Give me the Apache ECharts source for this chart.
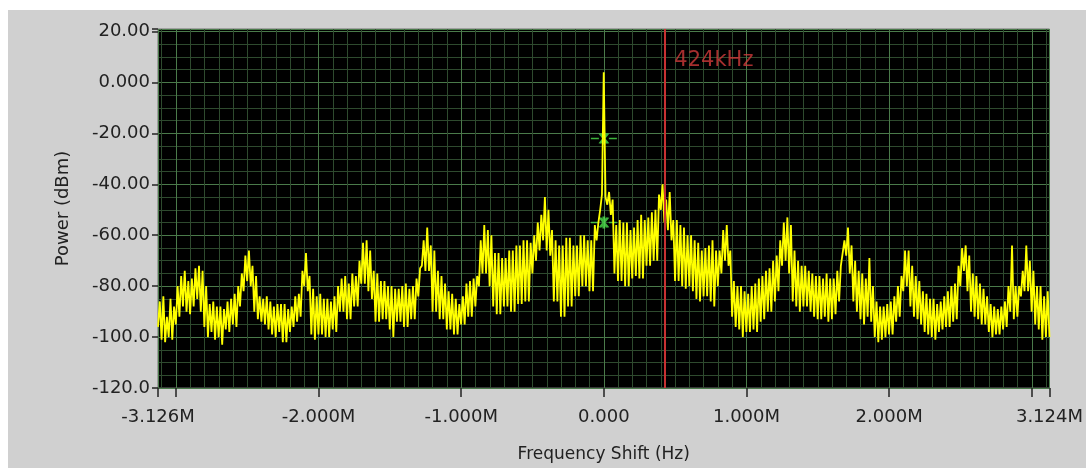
<!DOCTYPE html>
<html>
<head>
<meta charset="utf-8">
<script src="https://cdn.jsdelivr.net/npm/echarts@6/dist/echarts.min.js"></script>
<style>
  html, body { margin: 0; padding: 0; background: #fff; }
  #panel { position: absolute; left: 8px; top: 10px; width: 1078px; height: 458px; background: #d0d0d0; }
  #chart { position: absolute; left: 0; top: 0; width: 1086px; height: 468px; }
</style>
</head>
<body>
<div id="panel"></div>
<div id="chart"></div>
<script>
// spectrum: first bin and bin width in Hz, power per bin in dBm
const freqStart = -3126000;
const freqStep = 12500;
const powerDbm = [
  -96, -86, -101, -84, -102, -92, -100, -85, -101, -88,
  -95, -80, -92, -76, -88, -74, -90, -78, -91, -77,
  -88, -73, -85, -72, -90, -74, -96, -80, -100, -87,
  -98, -86, -101, -88, -100, -88, -103, -89, -97, -86,
  -98, -85, -95, -83, -96, -80, -88, -75, -82, -68,
  -78, -66, -80, -72, -90, -76, -93, -84, -94, -85,
  -95, -84, -97, -86, -99, -88, -100, -87, -98, -87,
  -102, -87, -102, -89, -98, -88, -96, -84, -94, -83,
  -92, -74, -80, -67, -82, -76, -99, -81, -101, -84,
  -99, -83, -99, -85, -100, -85, -100, -86, -97, -84,
  -98, -80, -90, -77, -90, -76, -93, -79, -93, -75,
  -88, -76, -88, -70, -79, -63, -79, -62, -82, -66,
  -85, -74, -94, -75, -94, -78, -93, -78, -93, -80,
  -97, -80, -100, -81, -94, -81, -94, -80, -96, -79,
  -96, -81, -93, -80, -93, -77, -84, -73, -72, -62,
  -74, -57, -74, -64, -90, -66, -90, -74, -93, -76,
  -93, -79, -97, -82, -97, -83, -99, -85, -99, -87,
  -95, -84, -95, -79, -92, -78, -92, -77, -88, -76,
  -80, -62, -75, -56, -75, -58, -80, -60, -88, -67,
  -91, -67, -91, -69, -88, -69, -88, -66, -90, -66,
  -90, -64, -87, -64, -87, -62, -86, -62, -86, -63,
  -75, -60, -70, -55, -66, -52, -62, -45, -66, -50,
  -68, -58, -86, -62, -86, -64, -92, -64, -92, -61,
  -88, -61, -88, -64, -84, -64, -84, -60, -80, -60,
  -80, -62, -82, -62, -82, -56, -62, -55, -50, -44,
  4, -45, -48, -43, -52, -46, -75, -56, -78, -54,
  -78, -55, -80, -55, -80, -58, -77, -57, -76, -54,
  -77, -52, -77, -54, -72, -53, -72, -51, -70, -50,
  -70, -44, -50, -40, -55, -46, -58, -43, -62, -54,
  -78, -54, -78, -56, -80, -57, -81, -60, -80, -60,
  -82, -62, -85, -63, -86, -66, -84, -65, -84, -64,
  -86, -62, -88, -66, -80, -66, -75, -58, -70, -56,
  -72, -66, -92, -78, -96, -80, -97, -80, -100, -82,
  -98, -83, -98, -80, -97, -79, -98, -77, -94, -76,
  -93, -74, -90, -73, -90, -70, -86, -68, -82, -62,
  -72, -55, -70, -53, -75, -56, -86, -66, -88, -70,
  -90, -72, -88, -72, -88, -74, -90, -75, -92, -76,
  -93, -76, -93, -77, -92, -75, -94, -77, -93, -77,
  -91, -74, -86, -72, -72, -62, -68, -57, -75, -64,
  -86, -70, -90, -74, -93, -75, -95, -77, -92, -69,
  -94, -80, -100, -86, -102, -88, -101, -88, -100, -87,
  -99, -86, -99, -84, -94, -80, -92, -76, -82, -66,
  -80, -66, -88, -72, -92, -76, -93, -78, -95, -82,
  -98, -83, -99, -85, -100, -85, -101, -87, -98, -86,
  -97, -84, -96, -82, -96, -80, -94, -79, -93, -72,
  -80, -65, -74, -64, -82, -68, -90, -75, -92, -76,
  -93, -79, -95, -81, -95, -84, -98, -87, -100, -88,
  -99, -89, -99, -88, -97, -86, -96, -80, -90, -64,
  -93, -80, -92, -80, -84, -74, -82, -64, -82, -70,
  -90, -74, -95, -80, -97, -80, -101, -84, -100, -82,
  -100
];

const cursorFreq = 424000;
const cursorLabel = "424kHz";
const cursorLabelLevel = 8.6;
const markerPoints = [[0, -22], [0, -55]];

const xMin = -3126000;
const xMax = 3124000;
const xLabelFreqs = [-3126000, -2000000, -1000000, 0, 1000000, 2000000, 3124000];
const yTicks = [-120, -100, -80, -60, -40, -20, 0, 20];

const spectrum = powerDbm.map((p, i) => [freqStart + i * freqStep, p]);

const chart = echarts.init(document.getElementById("chart"));

const option = {
  animation: false,
  textStyle: {fontFamily: "DejaVu Sans"},
  grid: {
    left: 158,
    right: 34,
    top: 29,
    bottom: 70,
    show: true,
    backgroundColor: "#000",
    borderColor: "#707070",
    borderWidth: 1
  },
  xAxis: {
    type: "value",
    min: xMin,
    max: xMax,
    splitNumber: 6,
    name: "Frequency Shift (Hz)",
    nameLocation: "middle",
    nameGap: 58,
    nameTextStyle: {color: "#222", fontSize: 17},
    axisLine: {show: false, onZero: false},
    axisTick: {show: true, length: 9, lineStyle: {color: "#222", width: 1.5}},
    axisLabel: {
      color: "#222",
      fontSize: 18,
      margin: 20,
      showMinLabel: true,
      showMaxLabel: true,
      formatter: v => {
        if (!xLabelFreqs.some(f => Math.abs(f - v) < 1)) return "";
        return Math.abs(v) < 1 ? "0.000" : (v / 1e6).toFixed(3) + "M";
      }
    },
    splitLine: {show: true, lineStyle: {color: "#4a7a4a", width: 1}},
    minorTick: {show: false, splitNumber: 10},
    minorSplitLine: {show: true, lineStyle: {color: "#2e4a2e", width: 1}}
  },
  yAxis: {
    type: "value",
    min: -120,
    max: 21,
    interval: 20,
    name: "Power (dBm)",
    nameLocation: "middle",
    nameGap: 86,
    nameTextStyle: {color: "#222", fontSize: 18},
    axisLine: {show: false, onZero: false},
    axisTick: {show: true, length: 6, lineStyle: {color: "#222", width: 1.5}},
    axisLabel: {
      color: "#222",
      fontSize: 18,
      margin: 8,
      formatter: v => yTicks.includes(v) ? v.toPrecision(4) : ""
    },
    splitLine: {show: true, lineStyle: {color: "#4a7a4a", width: 1}},
    minorTick: {show: false, splitNumber: 4},
    minorSplitLine: {show: true, lineStyle: {color: "#2e4a2e", width: 1}}
  },
  series: [
    {
      type: "line",
      data: spectrum,
      showSymbol: false,
      lineStyle: {color: "#ffff00", width: 1.8},
      markLine: {
        silent: true,
        symbol: "none",
        label: {show: false},
        lineStyle: {color: "#c83232", width: 2, type: "solid"},
        data: [{xAxis: cursorFreq}]
      }
    },
    {
      type: "scatter",
      data: markerPoints,
      symbol: "path://M0,6 L8,6 M18,6 L26,6 M9,1 L17,11 M17,1 L9,11 M13,0 L13,12",
      symbolSize: [26, 12],
      itemStyle: {color: "none", borderColor: "#4ce04c", borderWidth: 2}
    },
    {
      type: "scatter",
      data: [[cursorFreq, cursorLabelLevel]],
      symbolSize: 0,
      label: {
        show: true,
        position: "right",
        distance: 10,
        formatter: cursorLabel,
        color: "#d03a3a",
        fontSize: 21
      }
    }
  ]
};

chart.setOption(option);
</script>
</body>
</html>
